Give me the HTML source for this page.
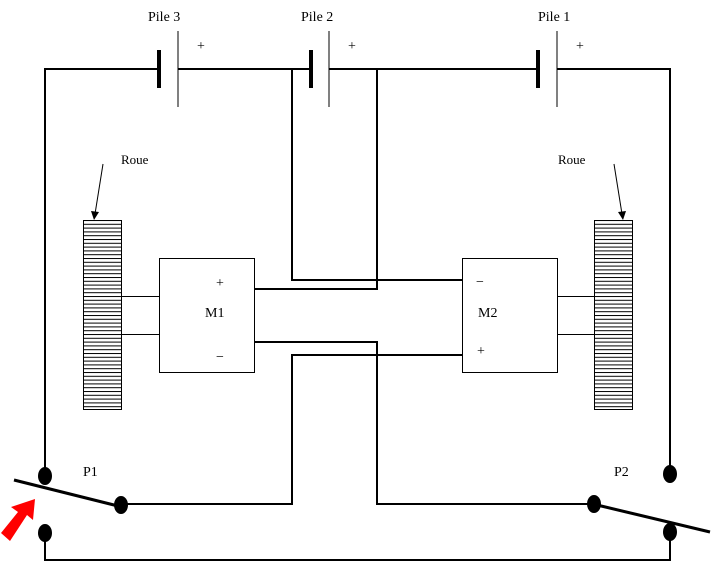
<!DOCTYPE html>
<html><head><meta charset="utf-8"><style>
html,body{margin:0;padding:0;background:#fff;}
svg text{font-family:"Liberation Serif",serif;font-size:14px;fill:#000;}
</style></head><body>
<svg width="711" height="563" viewBox="0 0 711 563" xmlns="http://www.w3.org/2000/svg">
<defs>
<pattern id="h" x="0" y="220" width="10" height="3.8" patternUnits="userSpaceOnUse">
<rect x="0" y="0" width="10" height="1" fill="#000"/>
</pattern>
</defs>
<g stroke="#000" stroke-width="2" fill="none">
<polyline points="45,476 45,69 159,69"/>
<line x1="178" y1="69" x2="311" y2="69"/>
<line x1="329" y1="69" x2="538" y2="69"/>
<polyline points="557,69 670,69 670,474"/>
<polyline points="292,69 292,280 462,280"/>
<polyline points="377,69 377,289 255,289"/>
<polyline points="255,342 377,342 377,504 594,504"/>
<polyline points="462,355 292,355 292,504 121,504"/>
<polyline points="45,532 45,560 670,560 670,532"/>
</g>
<g stroke="#000">
<line x1="159" y1="50" x2="159" y2="88" stroke-width="4"/>
<line x1="178" y1="31" x2="178" y2="107" stroke-width="1"/>
<line x1="311" y1="50" x2="311" y2="88" stroke-width="4"/>
<line x1="329" y1="31" x2="329" y2="107" stroke-width="1"/>
<line x1="538" y1="50" x2="538" y2="88" stroke-width="4"/>
<line x1="557" y1="31" x2="557" y2="107" stroke-width="1"/>
</g>
<text x="148" y="21">Pile 3</text>
<text x="301" y="21">Pile 2</text>
<text x="538" y="21">Pile 1</text>
<text x="197" y="50">+</text>
<text x="348" y="50">+</text>
<text x="576" y="50">+</text>
<rect x="83.5" y="220.5" width="38" height="189" fill="url(#h)" stroke="#000" stroke-width="1"/>
<rect x="594.5" y="220.5" width="38" height="189" fill="url(#h)" stroke="#000" stroke-width="1"/>
<g stroke="#000" stroke-width="1">
<line x1="122" y1="296.5" x2="159" y2="296.5"/>
<line x1="122" y1="334.5" x2="159" y2="334.5"/>
<line x1="557" y1="296.5" x2="594" y2="296.5"/>
<line x1="557" y1="334.5" x2="594" y2="334.5"/>
<line x1="103" y1="164" x2="95" y2="214"/>
<line x1="614" y1="164" x2="622" y2="214"/>
</g>
<polygon points="91,211 99,212 94,220" fill="#000"/>
<polygon points="618,212 626,211 623,220" fill="#000"/>
<text x="121" y="164" style="font-size:13px">Roue</text>
<text x="558" y="164" style="font-size:13px">Roue</text>
<rect x="159.5" y="258.5" width="95" height="114" fill="#fff" stroke="#000" stroke-width="1"/>
<rect x="462.5" y="258.5" width="95" height="114" fill="#fff" stroke="#000" stroke-width="1"/>
<text x="216" y="287">+</text>
<text x="205" y="317">M1</text>
<text x="216" y="361">−</text>
<text x="476" y="286">−</text>
<text x="478" y="317">M2</text>
<text x="477" y="355">+</text>
<g fill="#000">
<ellipse cx="45" cy="476" rx="7" ry="9"/>
<ellipse cx="121" cy="505" rx="7" ry="9"/>
<ellipse cx="45" cy="533" rx="7" ry="9"/>
<ellipse cx="670" cy="474" rx="7" ry="9"/>
<ellipse cx="594" cy="504" rx="7" ry="9"/>
<ellipse cx="670" cy="532" rx="7" ry="9"/>
</g>
<g stroke="#000" stroke-width="3">
<line x1="14" y1="480" x2="118" y2="506"/>
<line x1="597" y1="505" x2="710" y2="532"/>
</g>
<text x="83" y="476">P1</text>
<text x="614" y="476">P2</text>
<polygon points="1,533 18,512 11,507 35,499 33,520 27,515 10,541" fill="#f00"/>
</svg>
</body></html>
